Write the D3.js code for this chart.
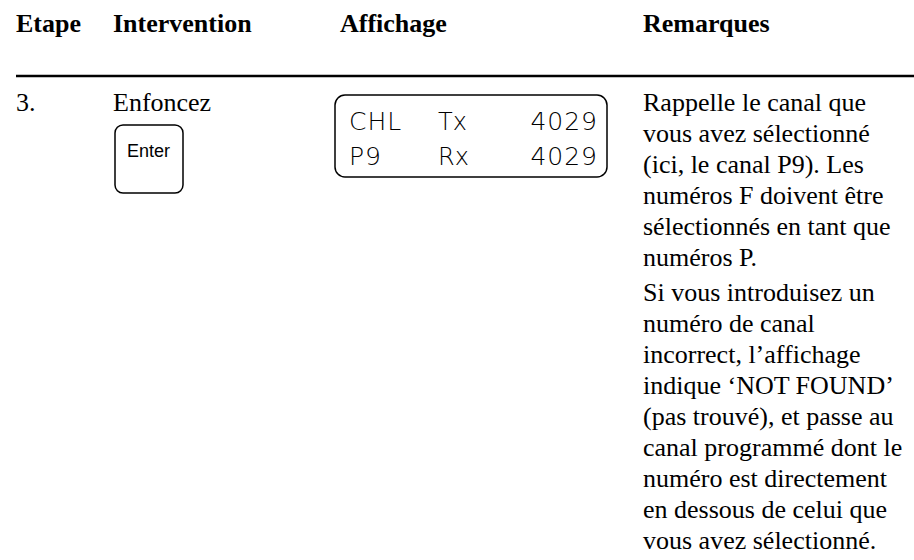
<!DOCTYPE html>
<html>
<head>
<meta charset="utf-8">
<script src="https://cdn.jsdelivr.net/npm/d3@7"></script>
<style>
  html, body { margin: 0; padding: 0; background: #fff; }
  svg { display: block; }
</style>
</head>
<body>
<svg id="chart" width="914" height="560"></svg>
<script>
// ---- content ----
const columns = ["Etape", "Intervention", "Affichage", "Remarques"];
const stepLabel = "3.";
const actionLabel = "Enfoncez";
const keyLabel = "Enter";
const displayRow1 = ["CHL", "Tx", "4029"];
const displayRow2 = ["P9", "Rx", "4029"];
const remarkPara1 = [
  "Rappelle le canal que",
  "vous avez sélectionné",
  "(ici, le canal P9). Les",
  "numéros F doivent être",
  "sélectionnés en tant que",
  "numéros P."
];
const remarkPara2 = [
  "Si vous introduisez un",
  "numéro de canal",
  "incorrect, l’affichage",
  "indique ‘NOT FOUND’",
  "(pas trouvé), et passe au",
  "canal programmé dont le",
  "numéro est directement",
  "en dessous de celui que",
  "vous avez sélectionné."
];

// ---- layout ----
const svg = d3.select("#chart");
const serif = "'Liberation Serif', 'Times New Roman', serif";
const fs = 26;

const colX = d3.scaleOrdinal().domain(columns).range([16, 113, 340, 643]);

// header
svg.selectAll("text.head").data(columns).join("text")
  .attr("class", "head")
  .attr("x", d => colX(d)).attr("y", 32)
  .attr("font-family", serif).attr("font-weight", "bold")
  .attr("font-size", fs).attr("fill", "#000")
  .text(d => d);

// rule
svg.append("line")
  .attr("x1", 16).attr("x2", 914).attr("y1", 76).attr("y2", 76)
  .attr("stroke", "#000").attr("stroke-width", 2.5);

const rowBase = 111;
// step
svg.append("text").attr("x", colX("Etape")).attr("y", rowBase)
  .attr("font-family", serif).attr("font-size", fs).text(stepLabel);
// action
svg.append("text").attr("x", colX("Intervention")).attr("y", rowBase)
  .attr("font-family", serif).attr("font-size", fs).text(actionLabel);

// key
const key = svg.append("g").attr("transform", "translate(115,125)");
key.append("rect").attr("width", 68).attr("height", 68).attr("rx", 8)
  .attr("fill", "none").attr("stroke", "#000").attr("stroke-width", 1.5);
key.append("text").attr("x", 12).attr("y", 32)
  .attr("font-family", "'Liberation Sans', Arial, sans-serif")
  .attr("font-size", 18).text(keyLabel);

// LCD display
const lcd = svg.append("g").attr("transform", "translate(335,95)");
lcd.append("rect").attr("width", 272).attr("height", 82).attr("rx", 10)
  .attr("fill", "none").attr("stroke", "#000").attr("stroke-width", 1.5);
const lcdFont = "'DejaVu Sans', sans-serif";
const lcdRows = [displayRow1, displayRow2];
const lcdY = d3.scalePoint().domain([0, 1]).range([35, 70]);
lcdRows.forEach((row, i) => {
  const g = lcd.append("g").attr("transform", `translate(0,${lcdY(i)})`);
  g.append("text").attr("x", 14).text(row[0])
    .attr("font-family", lcdFont).attr("font-weight", 200).attr("font-size", 25)
    .attr("letter-spacing", 1);
  g.append("text").attr("x", 103).text(row[1])
    .attr("font-family", lcdFont).attr("font-weight", 200).attr("font-size", 24);
  g.append("text").attr("x", 263).attr("text-anchor", "end").text(row[2])
    .attr("font-family", lcdFont).attr("font-weight", 200).attr("font-size", 25)
    .attr("letter-spacing", 1);
});

// remarks
const lh = 31;
const remarks = [];
remarkPara1.forEach((t, i) => remarks.push({t, y: rowBase + i * lh}));
const p2Start = rowBase + remarkPara1.length * lh + 4;
remarkPara2.forEach((t, i) => remarks.push({t, y: p2Start + i * lh}));
svg.selectAll("text.rem").data(remarks).join("text")
  .attr("class", "rem")
  .attr("x", colX("Remarques")).attr("y", d => d.y)
  .attr("font-family", serif).attr("font-size", fs).attr("fill", "#000")
  .text(d => d.t);
</script>
</body>
</html>
